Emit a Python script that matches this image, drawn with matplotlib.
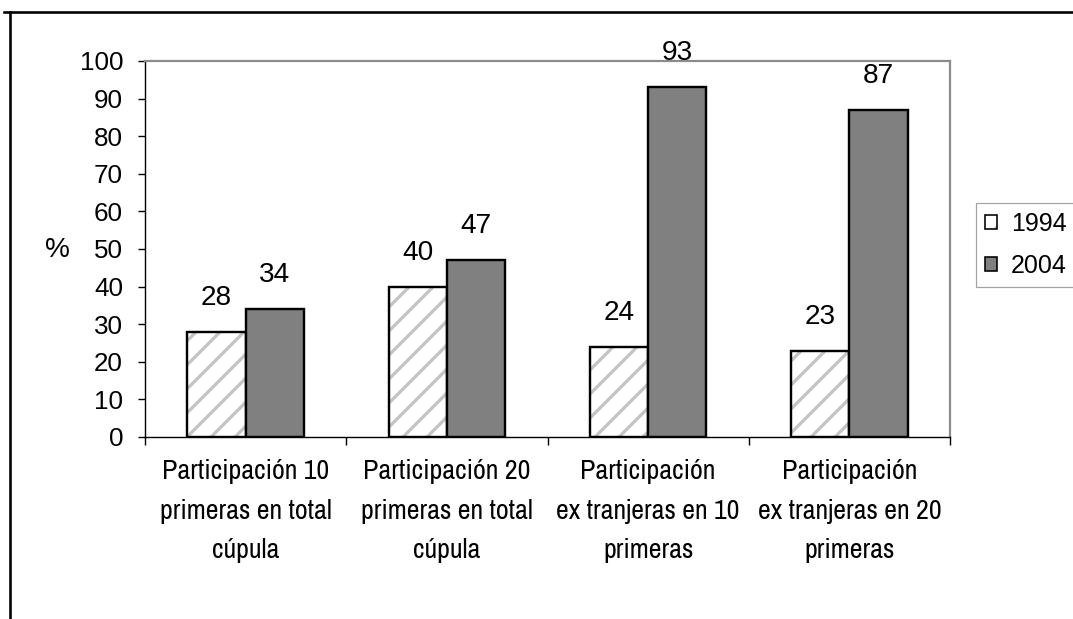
import matplotlib
matplotlib.use("Agg")
import matplotlib.pyplot as plt
from matplotlib import font_manager
from matplotlib.lines import Line2D
from matplotlib.patches import Patch
import numpy as np

# ── Data ──────────────────────────────────────────────

categories = [
    "Participación 10\nprimeras en total\ncúpula",
    "Participación 20\nprimeras en total\ncúpula",
    "Participación\nex tranjeras en 10\nprimeras",
    "Participación\nex tranjeras en 20\nprimeras",
]
years = ["1994", "2004"]
vals_1994 = [28, 40, 24, 23]
vals_2004 = [34, 47, 93, 87]
yticks = [0, 10, 20, 30, 40, 50, 60, 70, 80, 90, 100]

# ── Style ─────────────────────────────────────────────

DPI = 72  # 1 pt == 1 px, keeps the '/' hatch at ~12 px spacing
W, H = 1073, 619
SANS = ["Liberation Sans", "DejaVu Sans"]
HATCH_GREY = "#c4c4c4"
DARK_GREY = "#808080"
FRAME_GREY = "#8c8c8c"
BAR_W = 0.29


def _narrow_family():
    installed = {f.name for f in font_manager.fontManager.ttflist}
    for name in ("Liberation Sans Narrow", "Arial Narrow", "Archivo Narrow",
                 "PT Sans Narrow", "Roboto Condensed", "IBM Plex Sans Condensed",
                 "Encode Sans Condensed", "Open Sans Condensed"):
        if name in installed:
            return [name, "DejaVu Sans"]
    return SANS


NARROW = _narrow_family()

plt.rcParams.update({
    "font.family": SANS,
    "hatch.linewidth": 3.2,
    "axes.linewidth": 1.4,
})

fig = plt.figure(figsize=(W / DPI, H / DPI), dpi=DPI)
fig.patch.set_facecolor("white")
ax = fig.add_axes([145 / W, 1 - 437 / H, (950 - 145) / W, (437 - 61) / H])

x = np.arange(len(categories))

# 1994: grey hatch, then a separate black outline on top
ax.bar(x - BAR_W / 2, vals_1994, BAR_W, color="white", edgecolor=HATCH_GREY,
       hatch="/", linewidth=0, zorder=2)
ax.bar(x - BAR_W / 2, vals_1994, BAR_W, fill=False, edgecolor="black",
       linewidth=2.4, zorder=3)
ax.bar(x + BAR_W / 2, vals_2004, BAR_W, color=DARK_GREY, edgecolor="black",
       linewidth=2.4, zorder=3)

for xs, vs in ((x - BAR_W / 2, vals_1994), (x + BAR_W / 2, vals_2004)):
    for xi, v in zip(xs, vs):
        ax.annotate(str(v), (xi, v), xytext=(0, 34), textcoords="offset pixels",
                    ha="center", va="center", fontsize=28, color="black")

ax.set_xlim(-0.5, len(categories) - 0.5)
ax.set_ylim(0, 100)
ax.set_yticks(yticks)
ax.tick_params(axis="y", direction="out", length=7, width=1.4, pad=15,
               labelsize=26)

ax.set_xticks(x)
ax.set_xticklabels(categories, fontfamily=NARROW, fontsize=28,
                   linespacing=1.73)
ax.tick_params(axis="x", which="major", length=0, pad=22)
ax.set_xticks(np.arange(-0.5, len(categories)), minor=True)
ax.tick_params(axis="x", which="minor", direction="out", length=8, width=1.4)

for side in ("top", "right"):
    ax.spines[side].set_color(FRAME_GREY)
    ax.spines[side].set_linewidth(2.2)

fig.text(57 / W, 1 - 250 / H, "%", fontsize=28, ha="center", va="center")

# legend swatches: hatch layer + outline layer, overlaid
h1994 = (Patch(facecolor="white", edgecolor=HATCH_GREY, hatch="/", linewidth=0),
         Patch(fill=False, edgecolor="black", linewidth=1.6))
h2004 = Patch(facecolor=DARK_GREY, edgecolor="black", linewidth=1.6)
leg = fig.legend([h1994, h2004], years, loc="upper left",
                 bbox_to_anchor=(976 / W, 1 - 203 / H),
                 bbox_transform=fig.transFigure, fontsize=25,
                 handlelength=0.48, handleheight=0.48, handletextpad=0.56,
                 borderpad=0.35, labelspacing=0.72, borderaxespad=0,
                 fancybox=False, frameon=True)
leg.get_frame().set_edgecolor(FRAME_GREY)
leg.get_frame().set_linewidth(1.2)

# outer border of the chart box
fig.add_artist(Line2D([4 / W, 1], [1 - 12 / H, 1 - 12 / H],
                      transform=fig.transFigure, color="black", lw=2.6))
fig.add_artist(Line2D([10 / W, 10 / W], [1 - 12 / H, 0],
                      transform=fig.transFigure, color="black", lw=2.6))

fig.savefig("out.png", dpi=DPI)
